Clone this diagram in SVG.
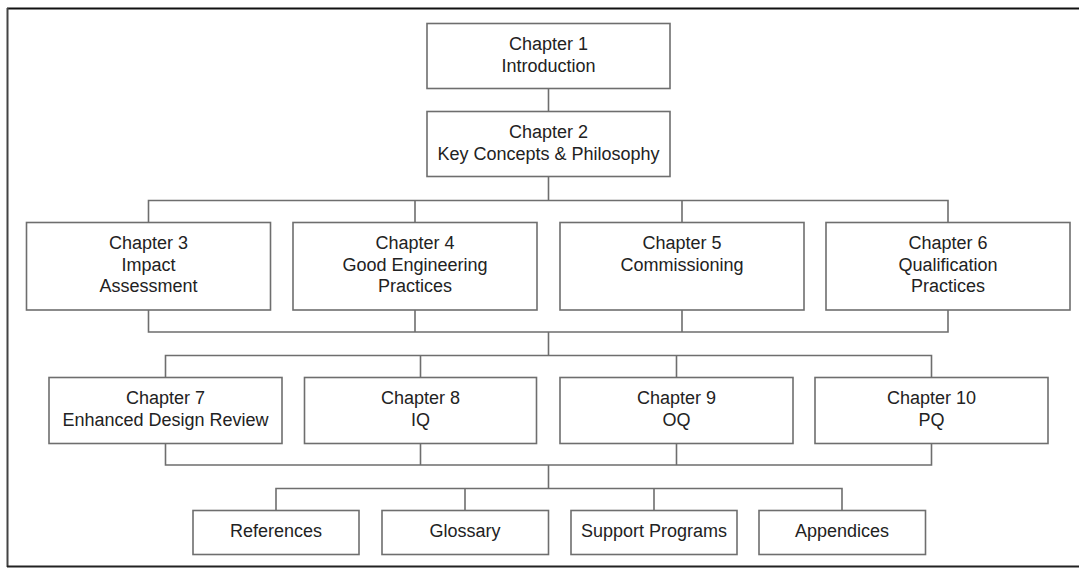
<svg xmlns="http://www.w3.org/2000/svg" width="1079" height="569" viewBox="0 0 1079 569">
<style>
.box{fill:#fff;stroke:#6e6e6e;stroke-width:1.6}
.con{fill:none;stroke:#6e6e6e;stroke-width:1.6}
text{font-family:"Liberation Sans",Arial,sans-serif;font-size:18px;fill:#222;text-anchor:middle}
</style>
<rect x="0" y="0" width="1079" height="569" fill="#fff"/>
<g id="frame">
<line x1="7" y1="8.5" x2="1079" y2="8.5" stroke="#111" stroke-width="2"/>
<line x1="7.5" y1="8" x2="7.5" y2="567" stroke="#444" stroke-width="2"/>
<line x1="7" y1="566.5" x2="1079" y2="566.5" stroke="#222" stroke-width="2"/>
</g>
<g id="connectors" class="con">
<path class="con" d="M548.5 88.5V111.5M548.5 176.5V200.5"/>
<path class="con" d="M148.5 222.5V200.5H948V222.5M415 200.5V222.5M682 200.5V222.5"/>
<path class="con" d="M148.5 310V332H948V310M415 310V332M682 310V332M548.5 332V355.5"/>
<path class="con" d="M165.5 377.5V355.5H931.5V377.5M420.5 355.5V377.5M676.5 355.5V377.5"/>
<path class="con" d="M165.5 443.5V465H931.5V443.5M420.5 443.5V465M676.5 443.5V465M548.5 465V488.5"/>
<path class="con" d="M276 510.5V488.5H842V510.5M465 488.5V510.5M654 488.5V510.5"/>
</g>
<g id="ch1"><rect class="box" x="427" y="23.5" width="243" height="65"/><text x="548.5" y="50">Chapter 1</text><text x="548.5" y="71.5">Introduction</text></g>
<g id="ch2"><rect class="box" x="427" y="111.5" width="243" height="65"/><text x="548.5" y="138">Chapter 2</text><text x="548.5" y="159.5">Key Concepts &amp; Philosophy</text></g>
<g id="ch3"><rect class="box" x="26.5" y="222.5" width="244" height="87.5"/><text x="148.5" y="249">Chapter 3</text><text x="148.5" y="270.5">Impact</text><text x="148.5" y="292">Assessment</text></g>
<g id="ch4"><rect class="box" x="293" y="222.5" width="244" height="87.5"/><text x="415" y="249">Chapter 4</text><text x="415" y="270.5">Good Engineering</text><text x="415" y="292">Practices</text></g>
<g id="ch5"><rect class="box" x="560" y="222.5" width="244" height="87.5"/><text x="682" y="249">Chapter 5</text><text x="682" y="270.5">Commissioning</text></g>
<g id="ch6"><rect class="box" x="826" y="222.5" width="244" height="87.5"/><text x="948" y="249">Chapter 6</text><text x="948" y="270.5">Qualification</text><text x="948" y="292">Practices</text></g>
<g id="ch7"><rect class="box" x="49" y="377.5" width="233" height="66"/><text x="165.5" y="404">Chapter 7</text><text x="165.5" y="425.5">Enhanced Design Review</text></g>
<g id="ch8"><rect class="box" x="304.5" y="377.5" width="232" height="66"/><text x="420.5" y="404">Chapter 8</text><text x="420.5" y="425.5">IQ</text></g>
<g id="ch9"><rect class="box" x="560" y="377.5" width="233" height="66"/><text x="676.5" y="404">Chapter 9</text><text x="676.5" y="425.5">OQ</text></g>
<g id="ch10"><rect class="box" x="815" y="377.5" width="233" height="66"/><text x="931.5" y="404">Chapter 10</text><text x="931.5" y="425.5">PQ</text></g>
<g id="references"><rect class="box" x="193" y="510.5" width="166" height="44"/><text x="276" y="537">References</text></g>
<g id="glossary"><rect class="box" x="382" y="510.5" width="166.5" height="44"/><text x="465" y="537">Glossary</text></g>
<g id="support"><rect class="box" x="571" y="510.5" width="166" height="44"/><text x="654" y="537">Support Programs</text></g>
<g id="appendices"><rect class="box" x="759" y="510.5" width="166.5" height="44"/><text x="842" y="537">Appendices</text></g>
</svg>
